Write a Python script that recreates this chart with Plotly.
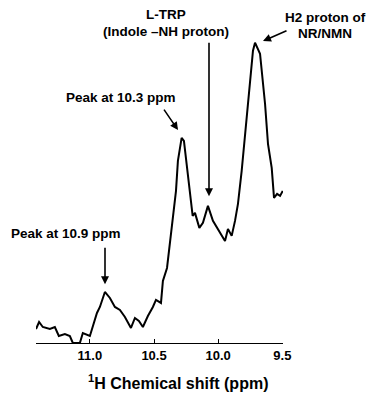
import plotly.graph_objects as go

# Chemical shift (ppm) and intensity (arbitrary units)
ppm = [11.42, 11.396, 11.367, 11.312, 11.273, 11.242, 11.195, 11.156, 11.133, 11.078,
       11.055, 11.0, 10.945, 10.922, 10.883, 10.844, 10.805, 10.766, 10.727, 10.68,
       10.649, 10.618, 10.587, 10.548, 10.509, 10.485, 10.446, 10.431, 10.399, 10.376,
       10.353, 10.329, 10.314, 10.285, 10.267, 10.243, 10.22, 10.199, 10.181, 10.147,
       10.119, 10.08, 10.041, 9.986, 9.947, 9.924, 9.895, 9.869, 9.846, 9.817,
       9.778, 9.752, 9.729, 9.713, 9.69, 9.674, 9.635, 9.612, 9.583, 9.565,
       9.541, 9.518, 9.497]
intensity = [14, 21, 16, 14, 16, 7, 9, 7, 0, 0,
             10, 7, 30, 36, 51, 45, 36, 33, 26, 15,
             25, 22, 16, 27, 36, 43, 40, 62, 75, 102,
             129, 152, 182, 205, 202, 177, 152, 127, 130, 115,
             120, 137, 122, 110, 102, 114, 107, 122, 139, 172,
             222, 262, 292, 300, 294, 289, 239, 199, 175, 145,
             149, 147, 152]

tick_vals = [11.0, 10.5, 10.0, 9.5]
tick_text = ["11.0", "10.5", "10.0", "9.5"]

FONT = "Arial, Liberation Sans, sans-serif"
OFF = 8  # page body margin
W, H = 391 - OFF, 400 - OFF
L, R, T, B = 36 - OFF, 283 - OFF, 30 - OFF, 342.7 - OFF


def paper(x, y):
    # x, y are page pixel positions from the reference
    x -= OFF
    y -= OFF
    return (x - L) / (R - L), (B - y) / (B - T)


fig = go.Figure()
fig.add_trace(go.Scatter(x=ppm, y=intensity, mode="lines",
                         line=dict(color="black", width=2), showlegend=False,
                         hoverinfo="skip"))

annotations = []
texts = [
    ("<b>Peak at 10.9 ppm</b>", 66, 233, 13.5),
    ("<b>Peak at 10.3 ppm</b>", 121, 97, 13.5),
    ("<b>L-TRP</b>", 166, 15, 13.5),
    ("<b>(Indole –NH proton)</b>", 166, 31, 13.5),
    ("<b>H2 proton of</b>", 325, 18, 13.5),
    ("<b>NR/NMN</b>", 325, 33, 13.5),
    ("<b><sup>1</sup>H Chemical shift (ppm)</b>", 178, 382, 16),
]
for t, x, y, s in texts:
    px, py = paper(x, y)
    annotations.append(dict(text=t, x=px, y=py, xref="paper", yref="paper",
                            showarrow=False, xanchor="center", yanchor="middle",
                            font=dict(family=FONT, size=s, color="black")))
arrows = [(105, 284, 0, -38), (178, 130, -15, -22), (209, 196, 0, -155), (263, 41, 25, -11)]
for x, y, ax, ay in arrows:
    px, py = paper(x, y)
    annotations.append(dict(text="", x=px, y=py, xref="paper", yref="paper",
                            showarrow=True, ax=ax, ay=ay, arrowhead=2, arrowsize=1,
                            arrowwidth=1.6, arrowcolor="black"))

fig.update_layout(
    width=W, height=H,
    margin=dict(l=L, r=W - R, t=T, b=H - B, pad=0),
    paper_bgcolor="white", plot_bgcolor="white",
    annotations=annotations,
    xaxis=dict(range=[11.42, 9.495], showgrid=False, zeroline=False,
               showline=True, linecolor="black", linewidth=1,
               ticks="inside", ticklen=4, tickcolor="black",
               tickvals=tick_vals, ticktext=tick_text,
               tickfont=dict(family=FONT, size=13, color="black", weight="bold")),
    yaxis=dict(range=[0, B - T], visible=False, fixedrange=True),
)

fig.write_html("out.html")
